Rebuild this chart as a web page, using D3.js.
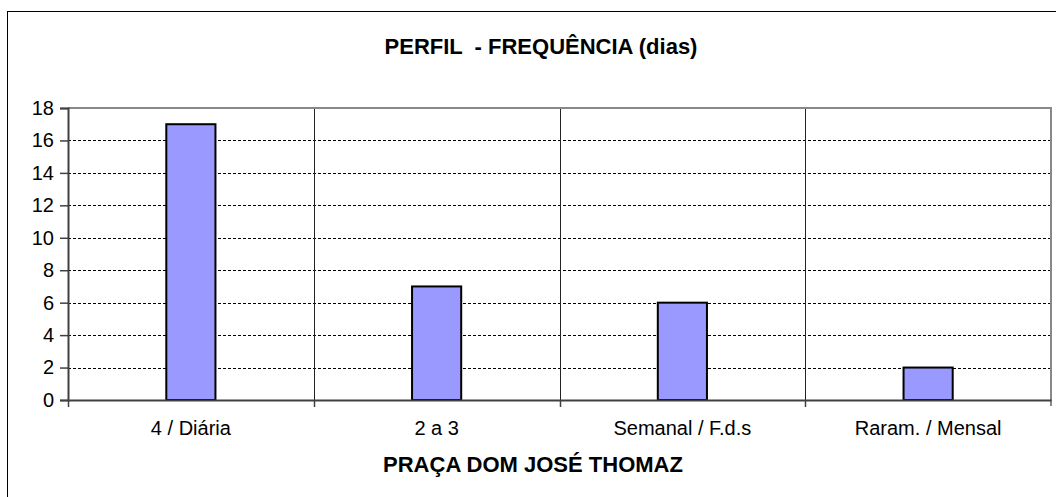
<!DOCTYPE html>
<html>
<head>
<meta charset="utf-8">
<script src="https://cdn.jsdelivr.net/npm/d3@7"></script>
<style>
  body { margin: 0; background: #fff; }
  svg { display: block; font-family: "Liberation Sans", Arial, sans-serif; }
</style>
</head>
<body>
<svg id="chart" width="1056" height="497"></svg>
<script>
const categories = ["4 / Diária", "2 a 3", "Semanal / F.d.s", "Raram. / Mensal"];
const values = [17, 7, 6, 2];
const yTicks = [0, 2, 4, 6, 8, 10, 12, 14, 16, 18];
const title = "PERFIL  - FREQUÊNCIA (dias)";
const xTitle = "PRAÇA DOM JOSÉ THOMAZ";

const W = 1056, H = 497;
const margin = { top: 108, right: 5, bottom: 97, left: 68 };

const svg = d3.select("#chart");

// outer chart frame (runs off the right and bottom edge)
svg.append("rect")
  .attr("x", 7.5).attr("y", 11.5)
  .attr("width", 1200).attr("height", 800)
  .attr("fill", "#fff").attr("stroke", "#000").attr("stroke-width", 1);

const x = d3.scaleBand()
  .domain(categories)
  .range([margin.left, W - margin.right])
  .padding(0);

const y = d3.scaleLinear()
  .domain([0, 18])
  .range([H - margin.bottom, margin.top]);

const x0 = margin.left, x1 = W - margin.right;
const y0 = H - margin.bottom, y1 = margin.top;

// dashed gridlines
svg.append("g")
  .selectAll("line")
  .data(yTicks.filter(d => d > 0 && d < 18))
  .join("line")
  .attr("x1", x0).attr("x2", x1)
  .attr("y1", d => Math.round(y(d)) + 0.5)
  .attr("y2", d => Math.round(y(d)) + 0.5)
  .attr("stroke", "#000")
  .attr("stroke-width", 1)
  .attr("stroke-dasharray", "3,2");

// category separators
svg.append("g")
  .selectAll("line")
  .data(categories.slice(1))
  .join("line")
  .attr("x1", d => Math.round(x(d)) + 0.5)
  .attr("x2", d => Math.round(x(d)) + 0.5)
  .attr("y1", y1).attr("y2", y0 + 6)
  .attr("stroke", "#222")
  .attr("stroke-width", 1);

// plot frame top + right (grey)
svg.append("path")
  .attr("d", `M${x0},${y1}H${x1}V${y0 + 6}`)
  .attr("fill", "none")
  .attr("stroke", "#888")
  .attr("stroke-width", 2);

// bars
const bw = x.bandwidth() * 0.2;
svg.append("g")
  .selectAll("rect")
  .data(values)
  .join("rect")
  .attr("x", (d, i) => x(categories[i]) + (x.bandwidth() - bw) / 2)
  .attr("y", d => y(d))
  .attr("width", bw)
  .attr("height", d => y(0) - y(d))
  .attr("fill", "#9999FF")
  .attr("stroke", "#000")
  .attr("stroke-width", 2);

// y axis
const yAxis = svg.append("g")
  .attr("transform", `translate(${x0},0)`)
  .call(d3.axisLeft(y).tickValues(yTicks).tickSize(8).tickPadding(6));
yAxis.select(".domain").attr("stroke", "#404040").attr("stroke-width", 2);
yAxis.selectAll(".tick line").attr("stroke", "#404040").attr("stroke-width", 1.5);
yAxis.selectAll(".tick text")
  .attr("font-size", 20).attr("fill", "#000")
  .attr("font-family", "Liberation Sans, Arial, sans-serif");

// x axis
const xAxis = svg.append("g")
  .attr("transform", `translate(0,${y0})`)
  .call(d3.axisBottom(x).tickSize(0).tickPadding(21));
xAxis.select(".domain").attr("stroke", "#404040").attr("stroke-width", 2);
xAxis.selectAll(".tick text")
  .attr("font-size", 20).attr("fill", "#000")
  .attr("font-family", "Liberation Sans, Arial, sans-serif");

// x tick marks at the separators
svg.append("g")
  .selectAll("line")
  .data([x0].concat(categories.slice(1).map(c => x(c))))
  .join("line")
  .attr("x1", d => Math.round(d) + 0.5).attr("x2", d => Math.round(d) + 0.5)
  .attr("y1", y0).attr("y2", y0 + 7)
  .attr("stroke", "#404040").attr("stroke-width", 1.5);

// titles
svg.append("text")
  .attr("x", 541).attr("y", 54)
  .attr("text-anchor", "middle")
  .attr("font-size", 22).attr("font-weight", "bold")
  .style("white-space", "pre")
  .text(title);

svg.append("text")
  .attr("x", 533).attr("y", 472)
  .attr("text-anchor", "middle")
  .attr("font-size", 22).attr("font-weight", "bold")
  .text(xTitle);
</script>
</body>
</html>
